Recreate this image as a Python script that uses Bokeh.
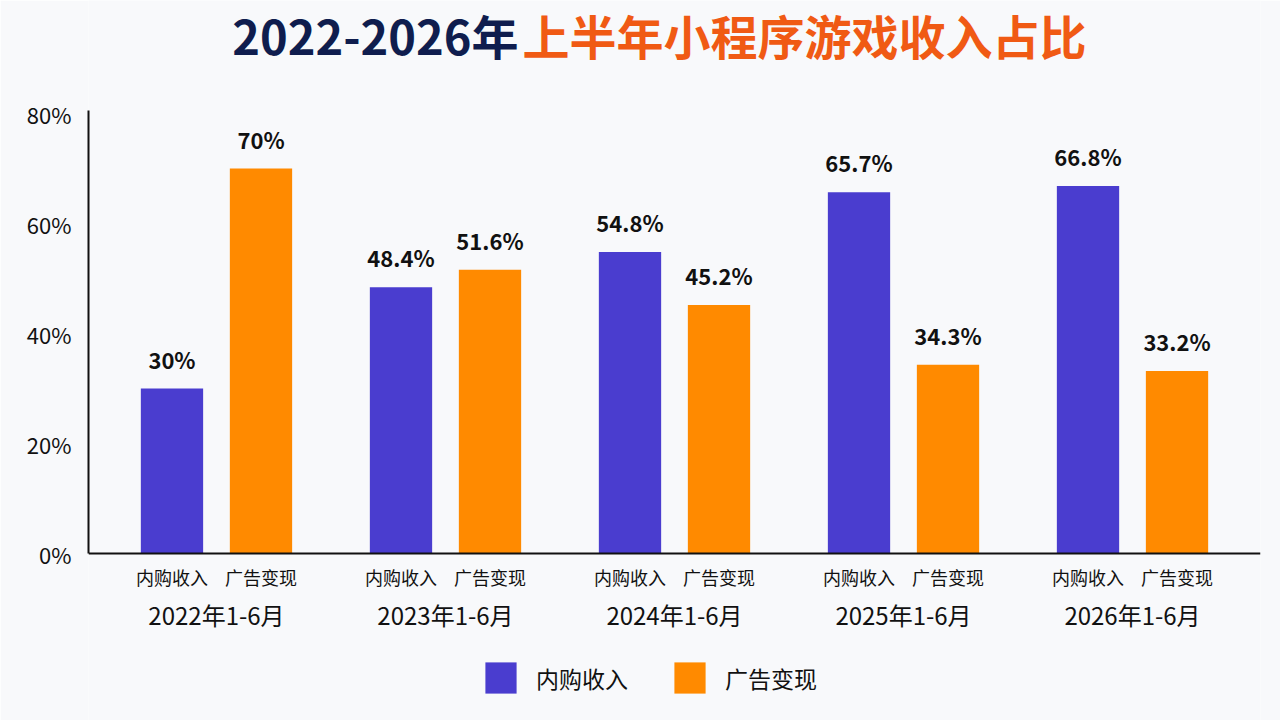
from bokeh.plotting import figure
from bokeh.models import (ColumnDataSource, FactorRange, FixedTicker, PrintfTickFormatter,
                          Legend, LegendItem, Label)
from bokeh.core.properties import value
from bokeh.embed import file_html
from bokeh.resources import INLINE

# ---- data ----
periods = ["2022年1-6月", "2023年1-6月", "2024年1-6月", "2025年1-6月", "2026年1-6月"]
series = ["内购收入", "广告变现"]
iap_share = [30, 48.4, 54.8, 65.7, 66.8]
ad_share = [70, 51.6, 45.2, 34.3, 33.2]
y_ticks = [0, 20, 40, 60, 80]
title_a = "2022-2026年"
title_b = "上半年小程序游戏收入占比"

BLUE = "#4a3dcf"
ORANGE = "#ff8a00"
NAVY = "#0f1d4e"
TITLE_ORANGE = "#f05a14"
BG = "#f8f9fb"
FONT = "Noto Sans CJK SC"

factors = [(p, s) for p in periods for s in series]

src_iap = ColumnDataSource(dict(x=[(p, series[0]) for p in periods], top=iap_share,
                                lab=[f"{v:g}%" for v in iap_share]))
src_ad = ColumnDataSource(dict(x=[(p, series[1]) for p in periods], top=ad_share,
                               lab=[f"{v:g}%" for v in ad_share]))

xr = FactorRange(*factors, factor_padding=0.0, group_padding=0.573,
                 range_padding=0.438, range_padding_units="absolute")

p = figure(width=1280, height=720, x_range=xr, y_range=(-30.36, 100.55),
           output_backend="svg", toolbar_location=None,
           min_border_left=88, min_border_right=20, min_border_top=0, min_border_bottom=0)

p.background_fill_color = BG
p.border_fill_color = BG
p.outline_line_color = None
p.xgrid.grid_line_color = None
p.ygrid.grid_line_color = None

r1 = p.vbar(x="x", top="top", width=0.70, source=src_iap, fill_color=BLUE, line_color=None)
r2 = p.vbar(x="x", top="top", width=0.70, source=src_ad, fill_color=ORANGE, line_color=None)

for src in (src_iap, src_ad):
    p.text(x="x", y="top", text="lab", source=src, text_align="center", text_baseline="bottom",
           y_offset=-14, text_font=value(FONT), text_font_size="22px", text_font_style="bold",
           text_color="#111111")

# y axis
p.yaxis.ticker = FixedTicker(ticks=y_ticks)
p.yaxis.formatter = PrintfTickFormatter(format="%d%%")
p.yaxis.bounds = (0, 80.5)
p.yaxis.axis_line_color = "#111111"
p.yaxis.axis_line_width = 2
p.yaxis.major_tick_line_color = None
p.yaxis.minor_tick_line_color = None
p.yaxis.major_label_text_font = FONT
p.yaxis.major_label_text_font_size = "22px"
p.yaxis.major_label_text_color = "#111111"
p.yaxis.major_label_standoff = 11

# x axis drawn at y = 0
p.xaxis.fixed_location = 0
p.xaxis.axis_line_color = "#111111"
p.xaxis.axis_line_width = 2
p.xaxis.major_tick_line_color = None
p.xaxis.minor_tick_line_color = None
p.xaxis.major_label_text_font = FONT
p.xaxis.major_label_text_font_size = "18px"
p.xaxis.major_label_text_color = "#111111"
p.xaxis.major_label_standoff = 4
p.xaxis.group_text_font = FONT
p.xaxis.group_text_font_size = "24px"
p.xaxis.group_text_font_style = "normal"
p.xaxis.group_text_color = "#111111"
p.xaxis.separator_line_color = None

legend = Legend(items=[LegendItem(label=series[0], renderers=[r1]),
                       LegendItem(label=series[1], renderers=[r2])],
                orientation="horizontal", location=(393, 23),
                glyph_width=39, glyph_height=39, label_text_font=FONT,
                label_text_font_size="23px", label_text_color="#111111",
                label_standoff=16, spacing=42, padding=0, margin=0,
                background_fill_alpha=0, border_line_color=None)
p.add_layout(legend, "center")

# two-colour title (screen units relative to the frame's bottom-left)
p.add_layout(Label(x=430, y=686, x_units="screen", y_units="screen", text=title_a,
                   text_align="right", text_baseline="middle", text_font=FONT,
                   text_font_size="47px", text_font_style="bold", text_color=NAVY))
p.add_layout(Label(x=434, y=686, x_units="screen", y_units="screen", text=title_b,
                   text_align="left", text_baseline="middle", text_font=FONT,
                   text_font_size="47px", text_font_style="bold", text_color=TITLE_ORANGE))

open("out.html", "w").write(file_html(p, INLINE))
